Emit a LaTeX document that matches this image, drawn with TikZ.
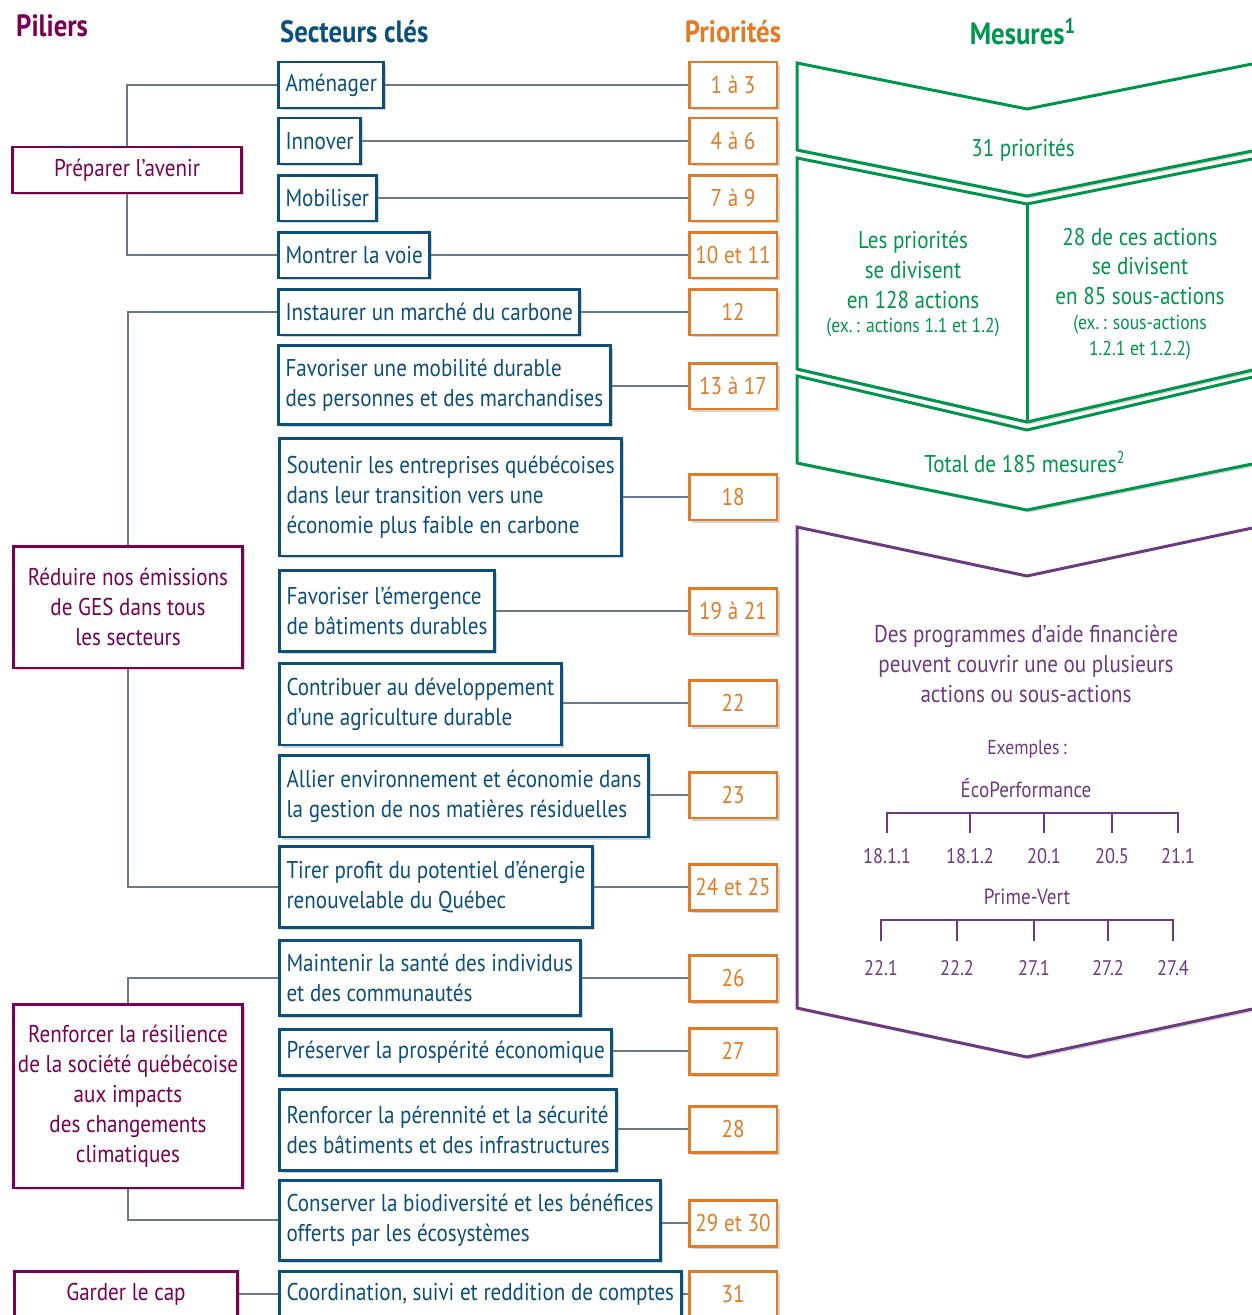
\documentclass[tikz,border=0pt]{standalone}
\usepackage{fontspec}
\setmainfont{PT Sans}[FakeStretch=0.87]
\usepackage{xcolor}
\usetikzlibrary{positioning,calc,shadows}
\definecolor{pilc}{HTML}{7A0052}
\definecolor{secc}{HTML}{0B4F7D}
\definecolor{pric}{HTML}{E27B25}
\definecolor{mesc}{HTML}{00954D}
\definecolor{progc}{HTML}{6D3A80}
\definecolor{linec}{HTML}{6B7886}
\newcommand{\smallf}{\fontsize{11.5}{13}\selectfont}

\begin{document}
\begin{tikzpicture}[x=0.02cm,y=-0.02cm,
every node/.style={font=\fontsize{13.8}{17}\selectfont},
shd/.style={drop shadow={shadow xshift=0.05cm,shadow yshift=-0.05cm,opacity=0.35}},
hd/.style={font=\fontsize{17.5}{20}\selectfont\bfseries},
pil/.style={draw=pilc,line width=1.7pt,fill=white,text=pilc,align=center,minimum width=4.58cm,inner xsep=2pt,shd},
sec/.style={draw=secc,line width=1.7pt,fill=white,text=secc,align=left,anchor=west,minimum height=0.92cm,inner xsep=4pt,shd},
pri/.style={draw=pric,line width=1.7pt,fill=white,text=pric,minimum width=1.76cm,minimum height=0.92cm,shd},
con/.style={draw=linec,line width=0.8pt},
mes/.style={draw=mesc,line width=1.7pt,fill=white,line join=miter},
prog/.style={draw=progc,line width=1.7pt,fill=white,line join=miter},
brk/.style={draw=progc,line width=1.3pt},
ex/.style={text=progc,font=\fontsize{12}{14}\selectfont}]
\useasboundingbox (0,0) rectangle (1251,1315);

\node[hd,text=pilc,anchor=west] (tpil) at (10,26) {Piliers};
\node[hd,text=secc,anchor=west] (tsec) at (274,32) {Secteurs clés};
\node[hd,text=pric] (tpri) at (733,32) {Priorités};
\node[hd,text=mesc] (tmes) at (1023,32) {Mesures\textsuperscript{1}};

\node[pil,minimum height=0.92cm] (pil1) at (127,170) {Préparer l’avenir};
\node[pil,minimum height=2.44cm] (pil2) at (128,607) {Réduire nos émissions\\de GES dans tous\\les secteurs};
\node[pil,minimum height=3.68cm] (pil3) at (128,1096) {Renforcer la résilience\\de la société québécoise\\aux impacts\\des changements\\climatiques};
\node[pil,minimum height=0.92cm,minimum width=4.48cm] (pil4) at (126,1294) {Garder le cap};

\node[sec] (s1) at (277,85) {Aménager};
\node[sec] (s2) at (277,141) {Innover};
\node[sec] (s3) at (277,198) {Mobiliser};
\node[sec] (s4) at (277,255) {Montrer la voie};
\node[sec] (s5) at (277,312) {Instaurer un marché du carbone};
\node[sec,minimum height=1.58cm] (s6) at (277,385) {Favoriser une mobilité durable\\des personnes et des marchandises};
\node[sec,minimum height=2.36cm] (s7) at (278,497) {Soutenir les entreprises québécoises\\dans leur transition vers une\\économie plus faible en carbone};
\node[sec,minimum height=1.62cm] (s8) at (278,611) {Favoriser l’émergence\\de bâtiments durables};
\node[sec,minimum height=1.64cm] (s9) at (278,704) {Contribuer au développement\\d’une agriculture durable};
\node[sec,minimum height=1.64cm] (s10) at (278,796) {Allier environnement et économie dans\\la gestion de nos matières résiduelles};
\node[sec,minimum height=1.62cm] (s11) at (278,887) {Tirer profit du potentiel d’énergie\\renouvelable du Québec};
\node[sec,minimum height=1.5cm] (s12) at (278,978) {Maintenir la santé des individus\\et des communautés};
\node[sec] (s13) at (278,1052) {Préserver la prospérité économique};
\node[sec,minimum height=1.62cm] (s14) at (278,1130) {Renforcer la pérennité et la sécurité\\des bâtiments et des infrastructures};
\node[sec,minimum height=1.6cm] (s15) at (278,1220) {Conserver la biodiversité et les bénéfices\\offerts par les écosystèmes};
\node[sec] (s16) at (278,1294) {Coordination, suivi et reddition de comptes};

\foreach \y/\t [count=\i] in {85/1 à 3,141/4 à 6,198/7 à 9,255/10 et 11,312/12,386/13 à 17,497/18,611/19 à 21,
  703/22,795/23,887/24 et 25,978/26,1051/27,1129/28,1223/29 et 30,1294/31}
  \node[pri] (p\i) at (733,\y) {\t};

\foreach \i in {1,...,16}
  \draw[con] (s\i.east |- p\i.west) -- (p\i.west);
\draw[con] (s1.west) -| (pil1.north);
\draw[con] (s4.west) -| (pil1.south);
\draw[con] (s5.west) -| (pil2.north);
\draw[con] (s11.west) -| (pil2.south);
\draw[con] (s12.west) -| (pil3.north);
\draw[con] (s15.west) -| (pil3.south);
\draw[con] (pil4.east) -- (s16.west);

\draw[mes,shd] (797,63) -- (1027,109) -- (1257,63) -- (1257,150) -- (1027,196) -- (797,150) -- cycle;
\draw[mes,shd] (797,158) -- (1027,204) -- (1257,158) -- (1257,369) -- (1027,422) -- (797,369) -- cycle;
\draw[mes] (1027,204) -- (1027,422);
\draw[mes,shd] (797,376) -- (1027,430) -- (1257,376) -- (1257,463) -- (1027,510) -- (797,463) -- cycle;
\node[text=mesc] (m1) at (1023,150) {31 priorités};
\node[text=mesc,align=center] (m2) at (913,284) {Les priorités\\se divisent\\en 128 actions\\[-3pt]\smallf(ex.\,: actions 1.1 et 1.2)};
\node[text=mesc,align=center] (m3) at (1140,294) {28 de ces actions\\se divisent\\en 85 sous-actions\\[-3pt]\smallf(ex.\,: sous-actions\\[-2pt]\smallf 1.2.1 et 1.2.2)};
\node[text=mesc] (m4) at (1025,462) {Total de 185 mesures\textsuperscript{2}};

\draw[prog,shd] (797,527) -- (1027,576) -- (1257,527) -- (1257,1008) -- (1027,1057) -- (797,1008) -- cycle;
\node[text=progc,align=center] (pg) at (1026,664) {Des programmes d’aide financière\\peuvent couvrir une ou plusieurs\\actions ou sous-actions};
\node[ex,font=\fontsize{11.5}{13}\selectfont] (exm) at (1027,749) {Exemples\,:};
\node[ex,font=\fontsize{12.5}{14}\selectfont] (eco) at (1026,788) {ÉcoPerformance};
\draw[brk] (887,833) -- (887,813) -- (1178,813) -- (1178,833);
\foreach \x/\t [count=\i] in {887/18.1.1,970/18.1.2,1044/20.1,1112/20.5,1178/21.1}{
  \draw[brk] (\x,813) -- (\x,833);
  \node[ex] (e\i) at (\x,856) {\t};}
\node[ex,font=\fontsize{12.5}{14}\selectfont] (pv) at (1027,897) {Prime-Vert};
\draw[brk] (881,941) -- (881,920) -- (1173,920) -- (1173,941);
\foreach \x/\t [count=\i] in {881/22.1,957/22.2,1034/27.1,1108/27.2,1173/27.4}{
  \draw[brk] (\x,920) -- (\x,941);
  \node[ex] (f\i) at (\x,968) {\t};}
\end{tikzpicture}
\end{document}
